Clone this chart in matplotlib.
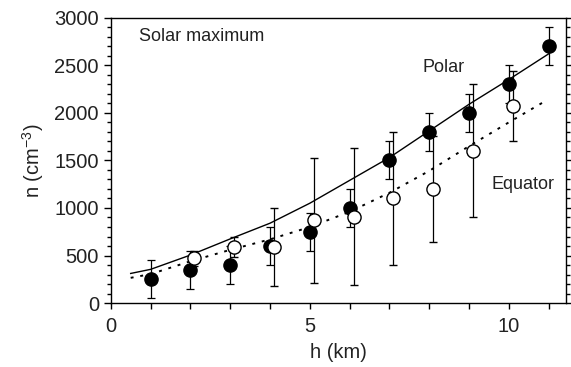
#!/usr/bin/env python3
import matplotlib
matplotlib.use('Agg')
import matplotlib.pyplot as plt
from matplotlib.ticker import MultipleLocator, FixedLocator

plt.rcParams['font.family'] = ['Liberation Sans', 'DejaVu Sans']
plt.rcParams['mathtext.fontset'] = 'custom'
plt.rcParams['mathtext.rm'] = 'Liberation Sans'

# Polar (filled circles)
polar_h = [1, 2, 3, 4, 5, 6, 7, 8, 9, 10, 11]
polar_n = [250, 350, 400, 600, 750, 1000, 1500, 1800, 2000, 2300, 2700]
polar_err = [200, 200, 200, 200, 200, 200, 200, 200, 200, 200, 200]

# Equator (open circles)
eq_h = [2.1, 3.1, 4.1, 5.1, 6.1, 7.1, 8.1, 9.1, 10.1]
eq_n = [470, 590, 590, 870, 910, 1100, 1200, 1600, 2070]
eq_err = [80, 110, 410, 660, 720, 700, 560, 700, 370]

# fitted curves
polar_fit_h = [0.5, 1, 2, 3, 4, 5, 6, 7, 8, 9, 10, 11]
polar_fit_n = [312, 355, 505, 675, 840, 1050, 1290, 1530, 1810, 2090, 2350, 2620]
eq_fit_h = [0.5, 1, 2, 3, 4, 5, 6, 7, 8, 9, 10, 10.9]
eq_fit_n = [266, 305, 440, 560, 670, 800, 960, 1160, 1390, 1650, 1900, 2120]

TEXT = '#222222'


def plot_chart():
    fig = plt.figure(figsize=(5.71, 3.67), dpi=100)
    ax = fig.add_axes([0.194, 0.174, 0.797, 0.778])

    ax.plot(polar_fit_h, polar_fit_n, color='black', lw=1.0, zorder=1)
    ax.plot(eq_fit_h, eq_fit_n, color='black', lw=1.4, ls=(0, (1.5, 3.5)), zorder=1)

    ax.errorbar(polar_h, polar_n, yerr=polar_err, fmt='o', color='black',
                mfc='black', mec='black', ms=9.5, elinewidth=0.9,
                capsize=3.2, capthick=0.9, zorder=3)
    ax.errorbar(eq_h, eq_n, yerr=eq_err, fmt='o', color='black',
                mfc='white', mec='black', ms=9.5, mew=1.0, elinewidth=0.9,
                capsize=3.2, capthick=0.9, zorder=4)

    ax.set_xlim(0, 11.43)
    ax.set_ylim(0, 3000)
    ax.xaxis.set_major_locator(FixedLocator([0, 5, 10]))
    ax.xaxis.set_minor_locator(MultipleLocator(1))
    ax.yaxis.set_major_locator(MultipleLocator(500))
    ax.yaxis.set_minor_locator(MultipleLocator(100))

    ax.tick_params(axis='both', which='both', direction='out', width=1.0,
                   labelsize=14.5, labelcolor=TEXT)
    ax.tick_params(axis='x', which='both', length=4, pad=6)
    ax.tick_params(axis='y', which='major', length=5, right=True)
    ax.tick_params(axis='y', which='minor', length=3, right=True)
    for sp in ax.spines.values():
        sp.set_linewidth(1.0)

    ax.set_xlabel('h (km)', fontsize=14.5, labelpad=5, color=TEXT)
    ax.set_ylabel('n (cm$^{-3}$)', fontsize=14.5, labelpad=6, color=TEXT)

    ax.text(0.7, 2800, 'Solar maximum', fontsize=13, va='center', ha='left', color=TEXT)
    ax.text(8.35, 2475, 'Polar', fontsize=13, va='center', ha='center', color=TEXT)
    ax.text(10.35, 1250, 'Equator', fontsize=13, va='center', ha='center', color=TEXT)

    fig.savefig('out.png', dpi=100)


if __name__ == '__main__':
    plot_chart()
